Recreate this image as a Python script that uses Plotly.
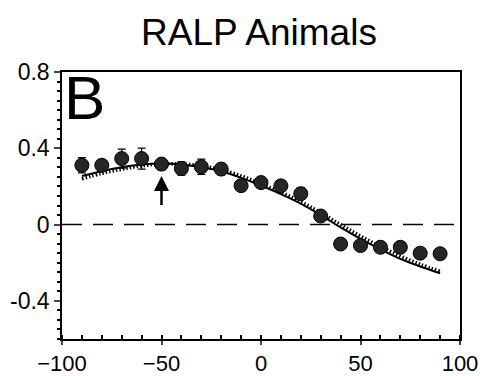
import plotly.graph_objects as go

# Tuning curve: mean response at each position, with SEM
positions = [-90, -80, -70, -60, -50, -40, -30, -20, -10, 0, 10, 20, 30, 40, 50, 60, 70, 80, 90]
response = [0.311, 0.311, 0.346, 0.346, 0.317, 0.294, 0.303, 0.291, 0.204, 0.220,
            0.203, 0.162, 0.045, -0.102, -0.110, -0.119, -0.119, -0.150, -0.153]
sem = [0.04, 0.03, 0.05, 0.055, 0.03, 0.035, 0.04, 0.03, 0.03, 0.025,
       0.025, 0.03, 0.025, 0.025, 0.025, 0.025, 0.025, 0.02, 0.025]

# Fitted curves
fit_x = [-90, -80, -70, -60, -50, -40, -30, -20, -10, 0, 10, 20, 30, 40, 50, 60, 70, 80, 90]
fit_solid = [0.255, 0.28, 0.30, 0.315, 0.32, 0.315, 0.30, 0.28, 0.245, 0.205,
             0.16, 0.11, 0.05, -0.015, -0.075, -0.13, -0.18, -0.22, -0.255]
fit_dotted = [0.24, 0.268, 0.29, 0.308, 0.318, 0.318, 0.308, 0.288, 0.255, 0.215,
              0.17, 0.12, 0.062, 0.0, -0.06, -0.115, -0.165, -0.208, -0.245]

x_ticks = [-100, -50, 0, 50, 100]
y_ticks = [-0.4, 0, 0.4, 0.8]
y_tick_text = ["-0.4", "0", "0.4", "0.8"]

FONT = "Liberation Sans, Arial, sans-serif"

fig = go.Figure()

# zero reference line
fig.add_trace(go.Scatter(
    x=[-100, 100], y=[0, 0], mode="lines",
    line=dict(color="black", width=1.5, dash="20px,11px"),
    hoverinfo="skip", showlegend=False))

fig.add_trace(go.Scatter(
    x=fit_x, y=fit_dotted, mode="lines", line_shape="spline",
    line=dict(color="black", width=3.5, dash="1.5px,2px"),
    showlegend=False))

fig.add_trace(go.Scatter(
    x=fit_x, y=fit_solid, mode="lines", line_shape="spline",
    line=dict(color="black", width=2),
    showlegend=False))

fig.add_trace(go.Scatter(
    x=positions, y=response, mode="markers",
    error_y=dict(type="data", array=sem, color="black", thickness=1.2, width=4),
    marker=dict(size=14, color="#262626", line=dict(color="black", width=1)),
    showlegend=False))

# arrow marking the preferred position
fig.add_annotation(
    x=-50, y=0.255, ax=-50, ay=0.095, xref="x", yref="y", axref="x", ayref="y",
    showarrow=True, arrowhead=2, arrowsize=1.2, arrowwidth=2.5, arrowcolor="black", text="")

# panel letter
fig.add_annotation(
    x=0.0, y=1.04, xref="paper", yref="paper", xanchor="left", yanchor="top",
    text="B", showarrow=False,
    font=dict(family=FONT, size=62, color="black"))

fig.update_layout(
    width=485, height=376,
    margin=dict(l=62, r=25, t=72, b=37, autoexpand=False),
    paper_bgcolor="white", plot_bgcolor="white",
    title=dict(text="RALP Animals", x=0.534, xanchor="center", y=0.915, yanchor="middle",
               font=dict(family=FONT, size=37, color="black")),
    font=dict(family=FONT, size=23, color="black"),
)

fig.update_xaxes(
    range=[-100, 100], tickvals=x_ticks, ticks="outside", ticklen=4, tickwidth=1.5,
    showgrid=False, zeroline=False, showline=True, linecolor="black", linewidth=1.5,
    mirror=True, tickfont=dict(size=22), automargin=False,
    minor=dict(dtick=10, ticks="inside", ticklen=4, tickcolor="black", showgrid=False))

fig.update_yaxes(
    range=[-0.6, 0.8], tickvals=y_ticks, ticktext=y_tick_text, ticks="outside",
    ticklen=6, tickwidth=1.5, showgrid=False, zeroline=False, showline=True,
    linecolor="black", linewidth=1.5, mirror=True, tickfont=dict(size=23), automargin=False,
    minor=dict(dtick=0.05, ticks="outside", ticklen=3, tickcolor="black", showgrid=False))

fig.write_html("out.html")
